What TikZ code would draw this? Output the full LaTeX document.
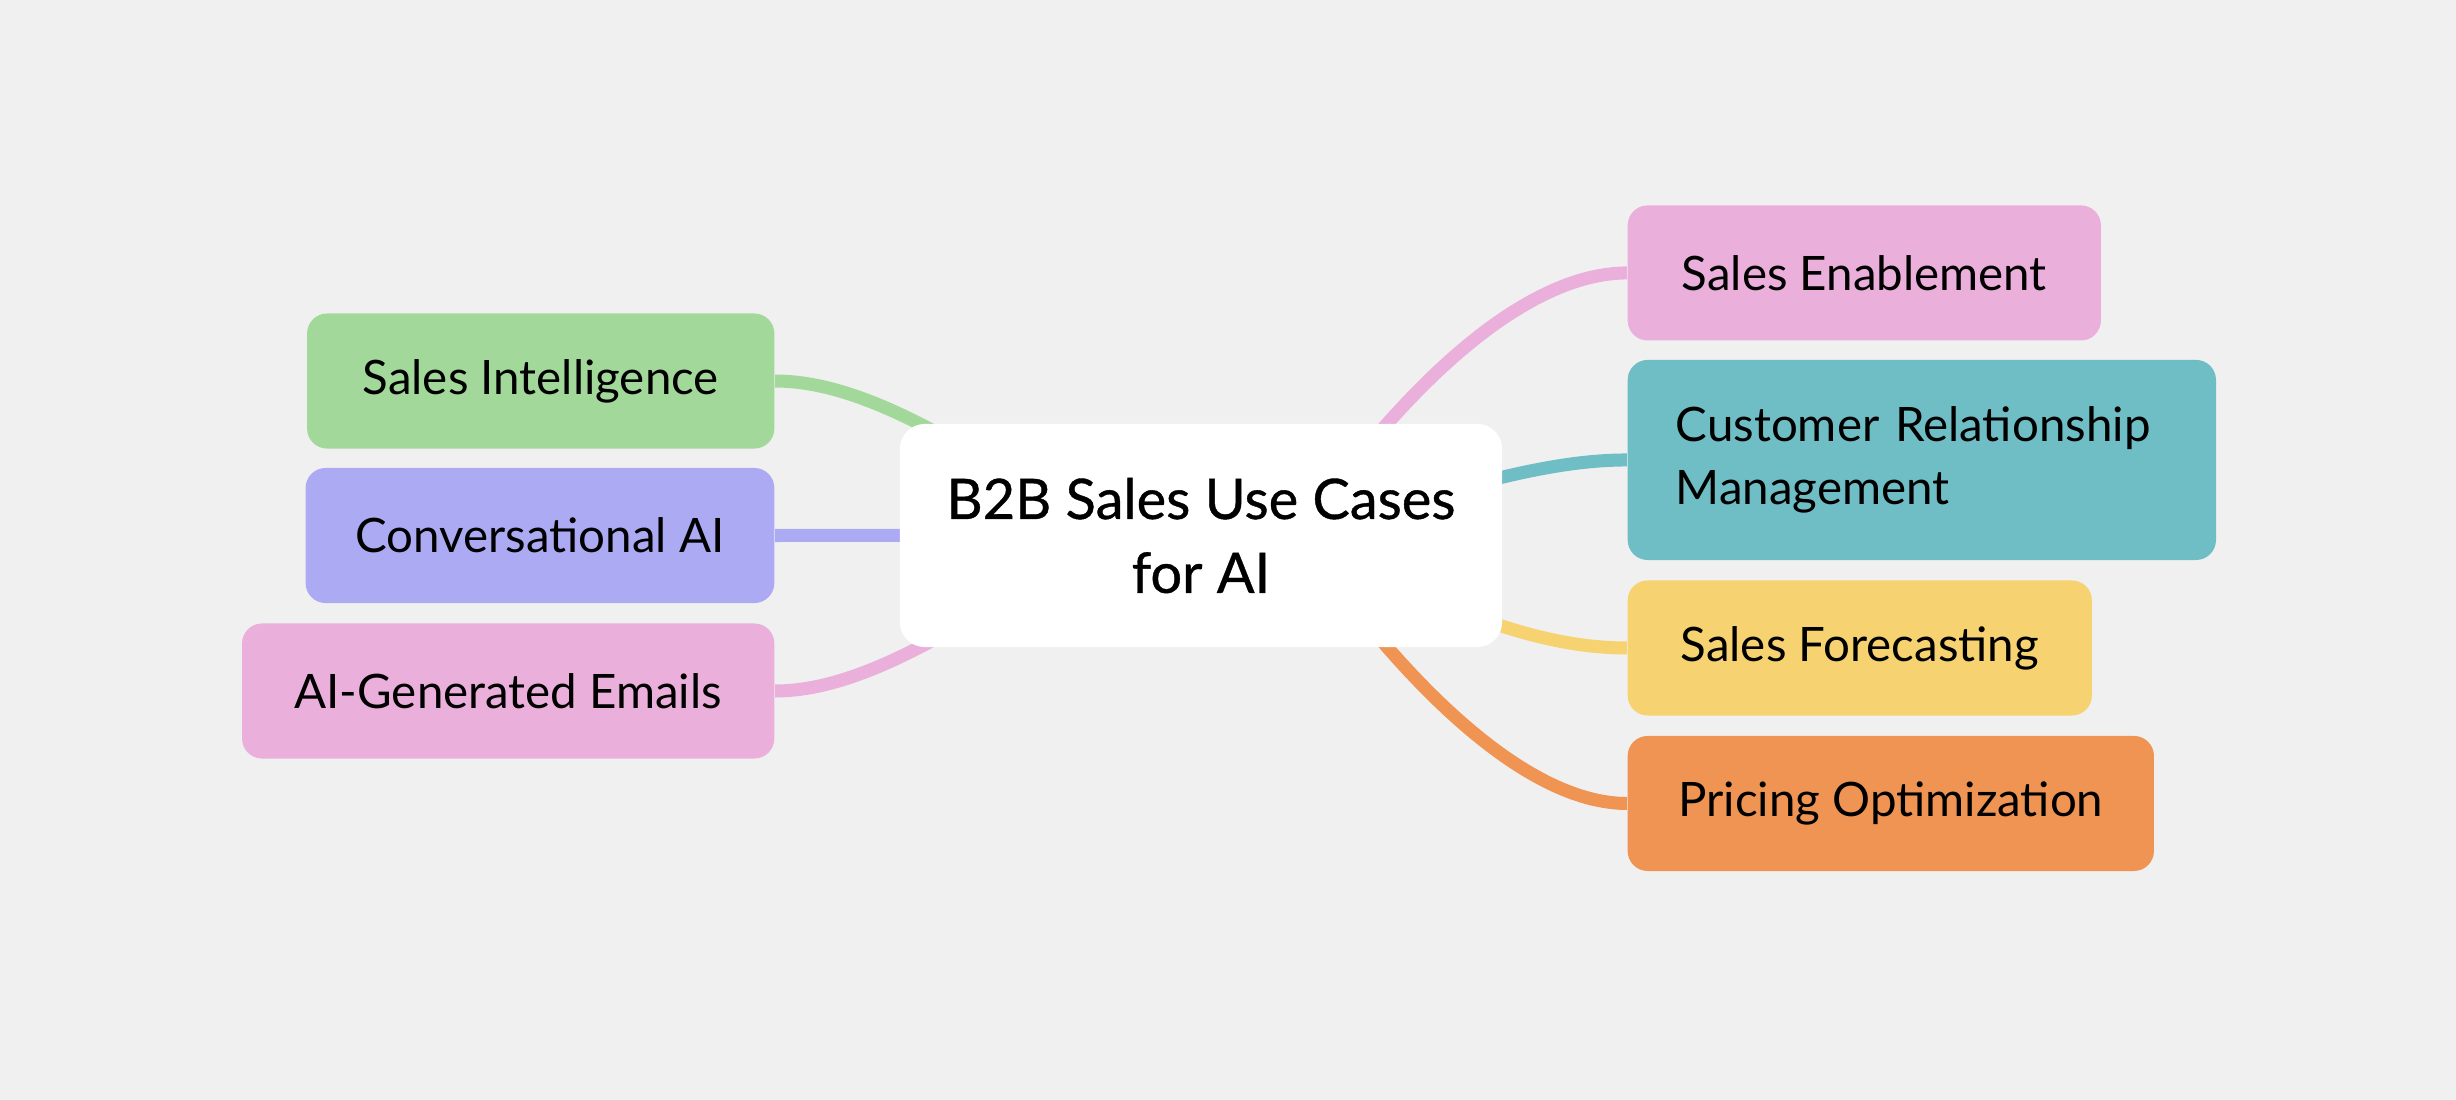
\documentclass[tikz,border=0pt]{standalone}
\usepackage{fontspec}
\setmainfont{Lato}
\newfontfamily\rootfont[FakeBold=0.7]{Lato}
\usetikzlibrary{positioning}
\definecolor{paper}{HTML}{F0F0F0}
\definecolor{intelcol}{HTML}{A2D89A}
\definecolor{convcol}{HTML}{ACAAF3}
\definecolor{emailcol}{HTML}{EAAFDA}
\definecolor{enablecol}{HTML}{EAAFDA}
\definecolor{crmcol}{HTML}{6FBEC5}
\definecolor{forecol}{HTML}{F6D270}
\definecolor{pricecol}{HTML}{F09453}
\pgfdeclarelayer{paperlayer}
\pgfdeclarelayer{links}
\pgfsetlayers{paperlayer,links,main}

\begin{document}
\begin{tikzpicture}[
    x=0.01cm, y=-0.01cm,
    topic/.style={rectangle, rounded corners=0.2cm, minimum height=1.35cm, font=\fontsize{13.5}{17.9}\selectfont, align=center},
    link/.style={line width=0.13cm}
]
    % canvas
    \begin{pgfonlayer}{paperlayer}
        \fill[paper] (0,0) rectangle (2456,1100);
    \end{pgfonlayer}
    \useasboundingbox (0,0) rectangle (2456,1100);

    % central topic
    \node[fill=white, rounded corners=0.25cm, minimum width=6.02cm, minimum height=2.23cm, align=center, font=\rootfont\fontsize{15.9}{21}\selectfont] (root) at (1201,535.5) {B2B Sales Use Cases\\for AI};
    \coordinate (lhub) at (1100,535);
    \coordinate (rhub) at (1300,535);

    % left branches
    \node[topic, fill=convcol, minimum width=4.685cm, left=1.24cm of root] (conv) {Conversational AI};
    \node[topic, fill=intelcol, minimum width=4.67cm, above=0.18cm of conv.north east, anchor=south east] (intel) {Sales Intelligence};
    \node[topic, fill=emailcol, minimum width=5.32cm, below=0.19cm of conv.south east, anchor=north east] (email) {AI-Generated Emails};

    % right branches
    \node[topic, fill=crmcol, minimum height=2.0cm, inner xsep=0.48cm, text width=4.92cm, align=left, right=1.24cm of root, yshift=0.755cm] (crm) {Customer Relationship\\Management};
    \node[topic, fill=enablecol, minimum width=4.73cm, above=0.18cm of crm.north west, anchor=south west] (enable) {Sales Enablement};
    \node[topic, fill=forecol, minimum width=4.64cm, below=0.19cm of crm.south west, anchor=north west] (fore) {Sales Forecasting};
    \node[topic, fill=pricecol, minimum width=5.26cm, below=0.19cm of fore.south west, anchor=north west] (price) {Pricing Optimization};

    % connectors, under the boxes
    \begin{pgfonlayer}{links}
        \draw[link, intelcol] (intel.east) .. controls +(85,0) and +(-140,-95) .. (lhub);
        \draw[link, convcol] (conv.east) -- (lhub);
        \draw[link, emailcol] (email.east) .. controls +(85,0) and +(-140,95) .. (lhub);
        \draw[link, enablecol] (enable.west) .. controls +(-84,0) and +(130,-185) .. (rhub);
        \draw[link, crmcol] (crm.west) .. controls +(-84,0) and +(150,-45) .. (rhub);
        \draw[link, forecol] (fore.west) .. controls +(-84,0) and +(150,80) .. (rhub);
        \draw[link, pricecol] (price.west) .. controls +(-84,0) and +(130,185) .. (rhub);
    \end{pgfonlayer}
\end{tikzpicture}
\end{document}
